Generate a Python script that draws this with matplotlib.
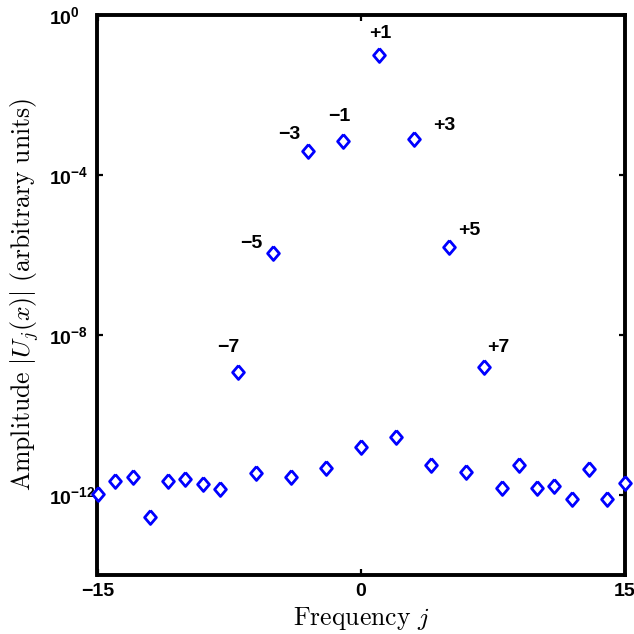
import matplotlib
matplotlib.use("Agg")
import matplotlib.pyplot as plt

# data
frequencies = [-15, -14, -13, -12, -11, -10, -9, -8, -7, -6, -5, -4, -3, -2, -1,
               0, 1, 2, 3, 4, 5, 6, 7, 8, 9, 10, 11, 12, 13, 14, 15]
amplitudes = [1.06e-12, 2.24e-12, 2.82e-12, 2.8e-13, 2.24e-12, 2.5e-12, 1.88e-12,
              1.45e-12, 1.19e-9, 3.55e-12, 1.12e-6, 2.82e-12, 4.0e-4, 4.7e-12,
              7.1e-4, 1.58e-11, 1.0e-1, 2.8e-11, 7.9e-4, 5.6e-12, 1.58e-6,
              3.76e-12, 1.58e-9, 1.5e-12, 5.6e-12, 1.5e-12, 1.68e-12, 7.9e-13,
              4.5e-12, 7.9e-13, 2.0e-12]
labelled = [-7, -5, -3, -1, 1, 3, 5, 7]
label_texts = ["\u22127", "\u22125", "\u22123", "\u22121", "+1", "+3", "+5", "+7"]
ytick_exponents = [0, -4, -8, -12]
xticks = [-15, 0, 15]

# label offsets in pixels (x right, y up)
label_offsets = [(-10, 24), (-22, 10), (-19, 16), (-4, 24), (2, 21), (31, 14), (20, 17), (14, 20)]

plt.rcParams['mathtext.fontset'] = 'custom'
plt.rcParams['mathtext.rm'] = 'Liberation Sans:bold'
plt.rcParams['mathtext.it'] = 'Liberation Sans:bold'
plt.rcParams['mathtext.bf'] = 'Liberation Sans:bold'

fig = plt.figure(figsize=(6.34, 6.34), dpi=100)
ax = fig.add_axes([97.5 / 634, 59 / 634, 527 / 634, 560 / 634])

# hollow diamond, a bit taller than wide
diamond = [(0, 1), (0.85, 0), (0, -1), (-0.85, 0), (0, 1)]
ax.plot(frequencies, amplitudes, linestyle='none', marker=diamond, markersize=10,
        markerfacecolor='white', markeredgecolor='#0000ff', markeredgewidth=2.0,
        clip_on=False, zorder=3)

for j, txt, off in zip(labelled, label_texts, label_offsets):
    ax.annotate(txt, (j, amplitudes[frequencies.index(j)]), xytext=off,
                textcoords='offset pixels', ha='center', va='center',
                fontsize=14, fontweight='bold', family='Liberation Sans')

ax.set_yscale('log')
ax.set_xlim(-15, 15)
ax.set_ylim(1e-14, 1e0)

ax.set_xticks(xticks)
ax.set_xticklabels(["\u221215", "0", "15"], fontsize=14, fontweight='bold',
                   family='Liberation Sans')
ax.set_yticks([10.0 ** e for e in ytick_exponents])
ax.set_yticklabels(["$10^{%d}$" % e for e in ytick_exponents], fontsize=14, ha='left')
ax.minorticks_off()

ax.tick_params(axis='both', direction='in', length=4, width=1.6, top=True, right=True)
ax.tick_params(axis='y', pad=35)
ax.tick_params(axis='x', pad=6)

for s in ax.spines.values():
    s.set_linewidth(2.8)

ax.set_xlabel(r'$\mathrm{Frequency}\ j$', fontsize=18.5, math_fontfamily='cm', labelpad=3)
ax.set_ylabel(r'$\mathrm{Amplitude}\ |U_j(x)|\ \mathrm{(arbitrary\ units)}$',
              fontsize=18.5, math_fontfamily='cm')
ax.yaxis.set_label_coords(-0.107, 0.5)

fig.savefig("out.png", dpi=100)
